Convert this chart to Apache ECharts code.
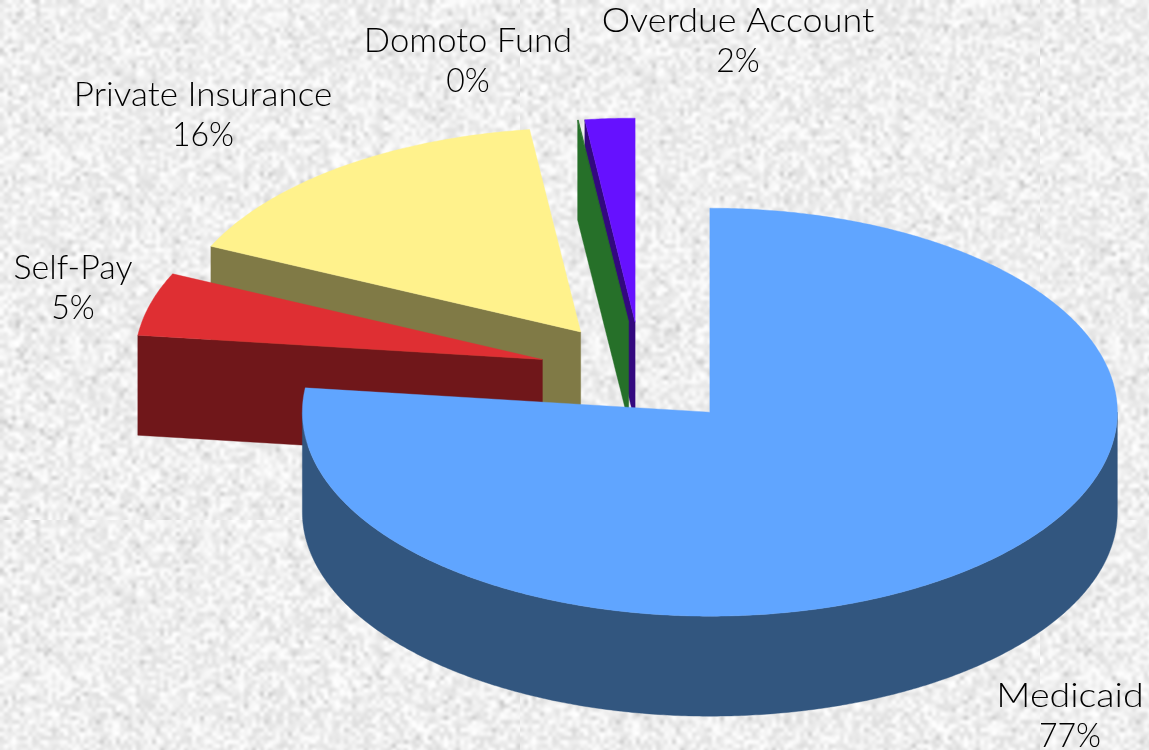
<!DOCTYPE html>
<html>
<head>
<meta charset="utf-8">
<style>html,body{margin:0;padding:0;background:#eee}#c{width:1149px;height:750px}</style>
<script src="https://cdn.jsdelivr.net/npm/echarts@6/dist/echarts.min.js"></script>
</head>
<body>
<div id="c"></div>
<script>
// ---- data ----
const categories = ['Medicaid', 'Self-Pay', 'Private Insurance', 'Domoto Fund', 'Overdue Account'];
const shares = [76.9, 5.0, 16.1, 0.03, 1.97];

// ---- styles and layout ----
const topColors = ['#60a5ff', '#df2f33', '#fff28c', '#267029', '#6611ff'];
const sideColors = ['#32567f', '#70171a', '#807a46', '#267029', '#33087f'];
const paintOrder = [4, 3, 2, 1, 0];
const labelCentres = [[1070, 696], [73, 268], [203, 95], [468, 41], [738, 21]];
const labelStretch = [1.14, 1.03, 1.06, 1.05, 1.09];
const PIE = {cx: 641.5, cy: 373.6, rx: 407.5, ry: 204, depth: 100, explode: 103};
const FONT = '300 33px Lato';
const LINE_GAP = 40;

function speckle() {
  const n = 130, k = 4, s = document.createElement('canvas');
  s.width = s.height = n;
  const g = s.getContext('2d'), im = g.createImageData(n, n);
  let seed = 12345;
  const next = () => (seed = (seed * 1664525 + 1013904223) >>> 0) / 4294967296;
  for (let i = 0; i < n * n; i++) {
    const r = next(), r2 = next();
    let v = 223 + r * 32;
    if (r2 > 0.94) v -= 22;
    im.data[i * 4] = im.data[i * 4 + 1] = im.data[i * 4 + 2] = v;
    im.data[i * 4 + 3] = 255;
  }
  g.putImageData(im, 0, 0);
  const c = document.createElement('canvas');
  c.width = c.height = n * k;
  const h = c.getContext('2d');
  h.imageSmoothingEnabled = true;
  h.imageSmoothingQuality = 'high';
  h.drawImage(s, 0, 0, n * k, n * k);
  return c;
}

const total = shares.reduce((a, b) => a + b, 0);
let run = 0;
const spans = shares.map(v => {
  const a = run / total * 360;
  run += v;
  return [a, run / total * 360];
});
const rad = d => d * Math.PI / 180;

function renderItem(params, api) {
  const i = api.value(0);
  const [a0, a1] = spans[i];
  const mid = rad((a0 + a1) / 2);
  const ox = PIE.cx + PIE.explode * Math.sin(mid);
  const oy = PIE.cy - PIE.explode * Math.cos(mid) * PIE.ry / PIE.rx;
  const rim = (d, dz) => [ox + PIE.rx * Math.sin(rad(d)), oy - PIE.ry * Math.cos(rad(d)) + (dz || 0)];
  const arc = (from, to, dz) => {
    const pts = [], n = Math.max(2, Math.ceil(Math.abs(to - from) / 0.5));
    for (let k = 0; k <= n; k++) pts.push(rim(from + (to - from) * k / n, dz));
    return pts;
  };
  const kids = [];
  const poly = (points, fill) => kids.push({
    type: 'polygon', shape: {points},
    style: {fill, stroke: fill, lineWidth: 0.4}, silent: true
  });
  const d = PIE.depth;
  if (a0 > 180 && a0 < 360) {
    poly([[ox, oy], rim(a0), rim(a0, d), [ox, oy + d]], sideColors[i]);
  }
  if (a1 > 0 && a1 < 180) {
    poly([[ox, oy], rim(a1), rim(a1, d), [ox, oy + d]], sideColors[i]);
  }
  const w0 = Math.max(a0, 90), w1 = Math.min(a1, 270);
  if (w1 > w0) {
    poly(arc(w0, w1, 0).concat(arc(w1, w0, d)), sideColors[i]);
  }
  poly([[ox, oy]].concat(arc(a0, a1, 0)), topColors[i]);
  return {type: 'group', children: kids};
}

function renderLabel(params, api) {
  const i = api.value(0);
  const [x, y] = labelCentres[i];
  const line = (text, yy, sx) => ({
    type: 'text', x, y: yy, scaleX: sx, silent: true,
    style: {text, fill: '#000', font: FONT, align: 'center', verticalAlign: 'middle'}
  });
  return {type: 'group', children: [
    line(categories[i], y, labelStretch[i]),
    line(Math.round(shares[i]) + '%', y + LINE_GAP, 0.97)
  ]};
}

const chart = echarts.init(document.getElementById('c'), null, {renderer: 'canvas', width: 1149, height: 750});
chart.setOption({
  animation: false,
  backgroundColor: {image: speckle(), repeat: 'repeat'},
  series: [
    {type: 'custom', coordinateSystem: 'none', renderItem, data: paintOrder.map(i => [i]), z: 2},
    {type: 'custom', coordinateSystem: 'none', renderItem: renderLabel, data: categories.map((c, i) => [i]), z: 3}
  ]
});
</script>
</body>
</html>
